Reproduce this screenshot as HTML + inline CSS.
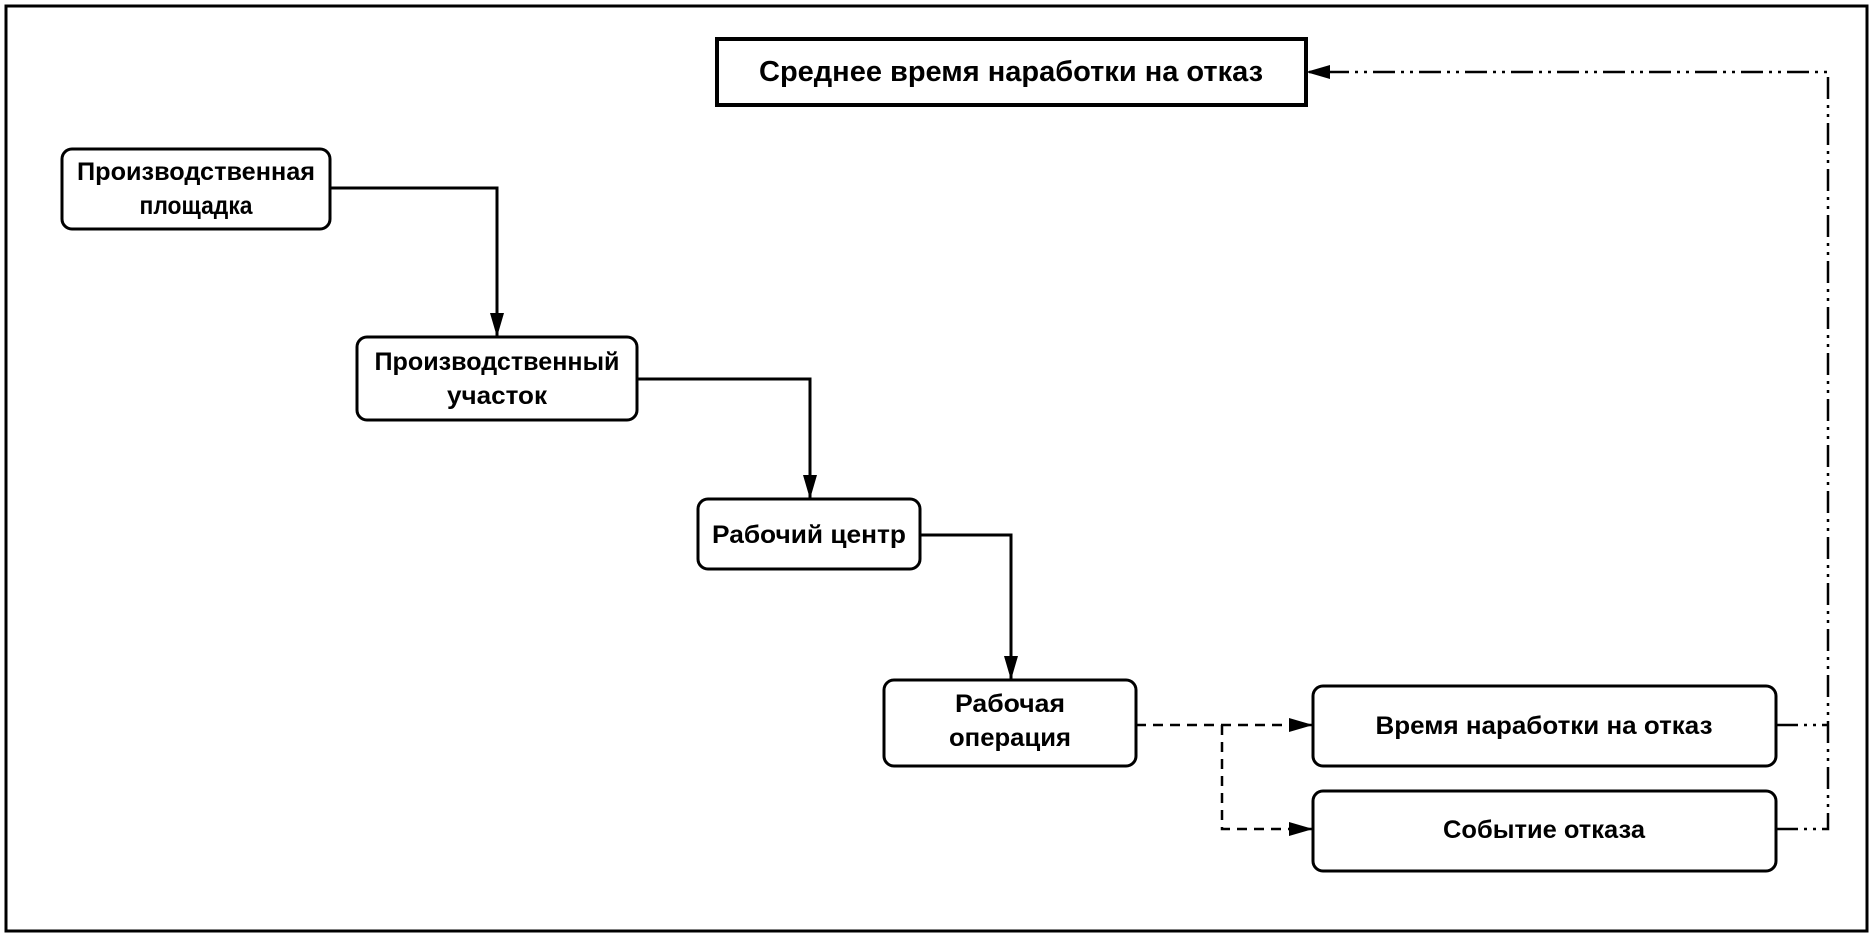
<!DOCTYPE html>
<html><head><meta charset="utf-8"><style>
html,body{margin:0;padding:0;background:#fff;}
svg{display:block;}
text{font-family:"Liberation Sans",sans-serif;font-weight:bold;fill:#000;}
</style></head><body>
<svg width="1873" height="936" viewBox="0 0 1873 936" xmlns="http://www.w3.org/2000/svg">
<defs>
<marker id="b" markerWidth="24" markerHeight="14" refX="24" refY="7" orient="auto" markerUnits="userSpaceOnUse">
<path d="M0,0 L24,7 L0,14 z" fill="#000"/></marker>
</defs>
<rect x="6" y="6" width="1861" height="925" fill="none" stroke="#000" stroke-width="3"/>
<rect x="717" y="39" width="589" height="66" fill="none" stroke="#000" stroke-width="4"/>
<text x="1011" y="81" font-size="29" text-anchor="middle" textLength="504" lengthAdjust="spacingAndGlyphs">Среднее время наработки на отказ</text>

<g fill="none" stroke="#000" stroke-width="3">
<rect x="62" y="149" width="268" height="80" rx="10"/>
<rect x="357" y="337" width="280" height="83" rx="10"/>
<rect x="698" y="499" width="222" height="70" rx="10"/>
<rect x="884" y="680" width="252" height="86" rx="10"/>
<rect x="1313" y="686" width="463" height="80" rx="10"/>
<rect x="1313" y="791" width="463" height="80" rx="10"/>
</g>
<g font-size="25" text-anchor="middle">
<text x="196" y="180" textLength="238" lengthAdjust="spacingAndGlyphs">Производственная</text>
<text x="196" y="214" textLength="113" lengthAdjust="spacingAndGlyphs">площадка</text>
<text x="497" y="370" textLength="245" lengthAdjust="spacingAndGlyphs">Производственный</text>
<text x="497" y="404" textLength="100" lengthAdjust="spacingAndGlyphs">участок</text>
<text x="809" y="543" textLength="194" lengthAdjust="spacingAndGlyphs">Рабочий центр</text>
<text x="1010" y="712" textLength="110" lengthAdjust="spacingAndGlyphs">Рабочая</text>
<text x="1010" y="746" textLength="122" lengthAdjust="spacingAndGlyphs">операция</text>
<text x="1544" y="734" textLength="337" lengthAdjust="spacingAndGlyphs">Время наработки на отказ</text>
<text x="1544" y="838" textLength="202" lengthAdjust="spacingAndGlyphs">Событие отказа</text>
</g>

<g fill="none" stroke="#000" stroke-width="3">
<path d="M330,188 H497 V337" marker-end="url(#b)"/>
<path d="M637,379 H810 V499" marker-end="url(#b)"/>
<path d="M920,535 H1011 V680" marker-end="url(#b)"/>
</g>
<g fill="none" stroke="#000" stroke-width="2.5" stroke-dasharray="10,7">
<path d="M1136,725 H1313" marker-end="url(#b)"/>
<path d="M1222,725 V829 H1313" marker-end="url(#b)"/>
</g>
<g fill="none" stroke="#000" stroke-width="2.5" stroke-dasharray="22,6,3,6,3,6">
<path d="M1776,725 H1828"/>
<path d="M1776,829 H1828 V72 H1306" marker-end="url(#b)"/>
</g>
</svg>
</body></html>
